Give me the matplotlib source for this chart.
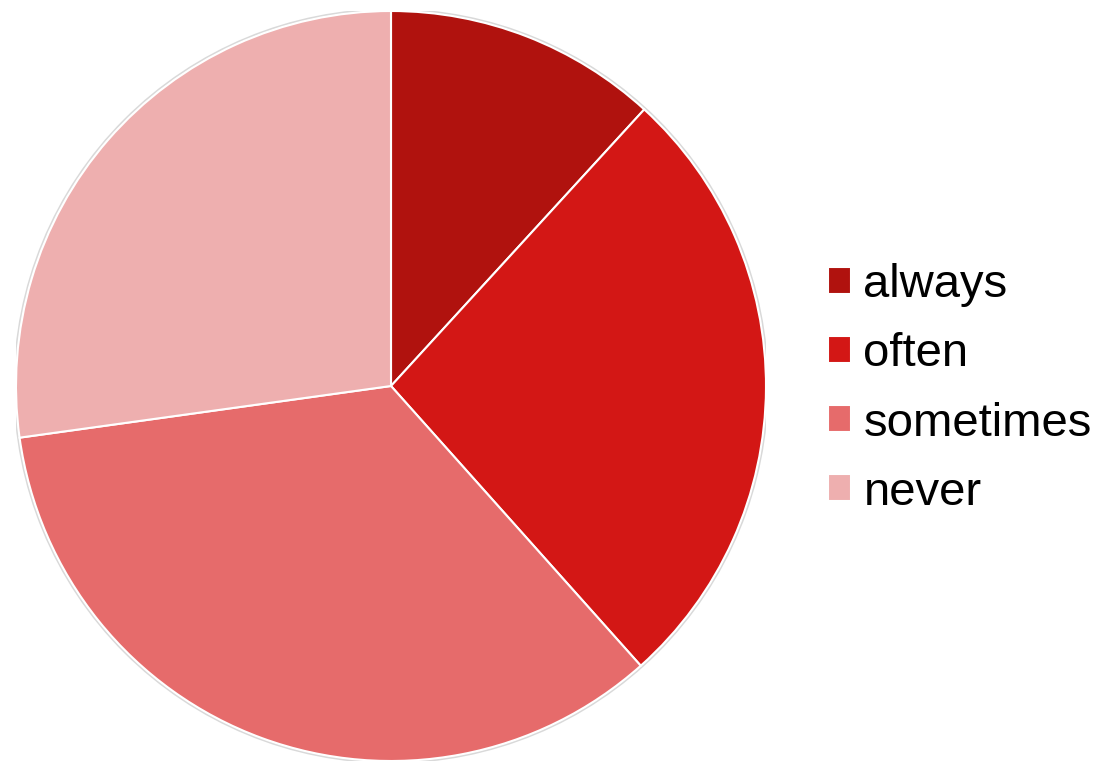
import matplotlib.pyplot as plt
from matplotlib.patches import Circle

labels = ['always', 'often', 'sometimes', 'never']
values = [11.8, 26.6, 34.4, 27.2]
colors = ['#B0120E', '#D31715', '#E66B6B', '#EEAFAF']

plt.rcParams['font.family'] = ['Liberation Sans', 'DejaVu Sans']

fig = plt.figure(figsize=(11.02, 7.63), dpi=100)
# pie centre ~ (391, 386) px, radius ~375 px
ax = fig.add_axes([16/1102, 2/763, 750/1102, 750/763])

# faint shadow round the rim
ax.add_patch(Circle((0, 0), 1.004, facecolor='none', edgecolor='#d9d9d9', linewidth=1.5, zorder=0))

wedges, _ = ax.pie(values, colors=colors, startangle=90, counterclock=False,
                   radius=1.0, wedgeprops=dict(edgecolor='white', linewidth=1.5))
ax.set_xlim(-1.0, 1.0)
ax.set_ylim(-1.0, 1.0)
ax.set_aspect('equal')
ax.axis('off')

fig.legend(wedges, labels, loc='center left', bbox_to_anchor=(828/1102, 1 - 389/763),
           frameon=False, fontsize=34, handlelength=0.49, handleheight=0.49,
           handletextpad=0.26, labelspacing=0.53, borderpad=0, borderaxespad=0)

fig.savefig('out.png', dpi=100)
